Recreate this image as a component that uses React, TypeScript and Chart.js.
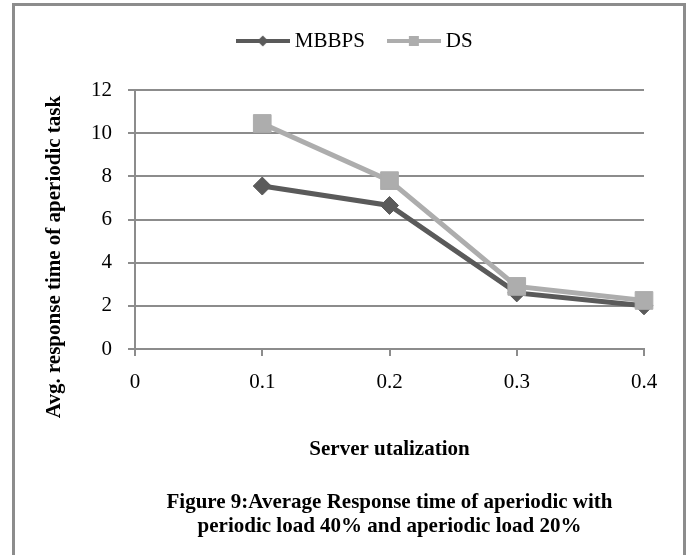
import React, { useEffect, useRef } from 'react';
import { Chart, registerables } from 'chart.js';

Chart.register(...registerables);

// ---- data ----
const utilization = [0.1, 0.2, 0.3, 0.4];
const mbbpsValues = [7.55, 6.65, 2.6, 2.0];
const dsValues = [10.45, 7.8, 2.9, 2.25];
const seriesNames = ['MBBPS', 'DS'];
const xTickValues = [0, 0.1, 0.2, 0.3, 0.4];
const xTickLabels = ['0', '0.1', '0.2', '0.3', '0.4'];
const yTickValues = [0, 2, 4, 6, 8, 10, 12];
const yTickLabels = ['0', '2', '4', '6', '8', '10', '12'];
const xAxisTitle = 'Server utalization';
const yAxisTitle = 'Avg. response time of aperiodic task';
const captionLines = [
  'Figure 9:Average Response time of aperiodic with',
  'periodic load 40% and aperiodic load 20%',
];

const DARK = '#5a5a5a';
const LIGHT = '#adadad';
const GRID = '#8c8c8c';
const FONT = '"Liberation Serif", "Times New Roman", serif';

function legendIcon(color: string, kind: 'diamond' | 'square') {
  const c = document.createElement('canvas');
  c.width = 54;
  c.height = 22;
  const g = c.getContext('2d')!;
  g.strokeStyle = color;
  g.lineWidth = 4;
  g.beginPath();
  g.moveTo(0, 11);
  g.lineTo(54, 11);
  g.stroke();
  g.fillStyle = color;
  if (kind === 'diamond') {
    g.beginPath();
    g.moveTo(27, 5.5);
    g.lineTo(32.5, 11);
    g.lineTo(27, 16.5);
    g.lineTo(21.5, 11);
    g.closePath();
    g.fill();
  } else {
    g.fillRect(22, 6, 10, 10);
  }
  return c;
}

function labelFor(values: number[], labels: string[], v: number) {
  const i = values.findIndex((t) => Math.abs(t - v) < 1e-9);
  return i >= 0 ? labels[i] : '';
}

export default function App() {
  const ref = useRef<HTMLCanvasElement | null>(null);

  useEffect(() => {
    if (!ref.current) return;
    Chart.defaults.font.family = FONT;
    Chart.defaults.color = '#000';
    const icons = [legendIcon(DARK, 'diamond'), legendIcon(LIGHT, 'square')];

    const legendSpacer = {
      id: 'legendSpacer',
      beforeUpdate(chart: any) {
        const lg = chart.legend;
        if (lg && !lg.__spaced) {
          const orig = lg.fit;
          lg.fit = function () {
            orig.call(this);
            this.height += 28.5;
          };
          lg.__spaced = true;
        }
      },
    };

    const yTitlePlugin = {
      id: 'yTitle',
      afterDraw(chart: any) {
        const ctx = chart.ctx;
        ctx.save();
        ctx.font = `bold 21px ${FONT}`;
        ctx.fillStyle = '#000';
        ctx.translate(55, 257);
        ctx.rotate(-Math.PI / 2);
        ctx.textAlign = 'center';
        ctx.textBaseline = 'middle';
        ctx.fillText(yAxisTitle, 0, 0);
        ctx.restore();
      },
    };

    const chart = new Chart(ref.current, {
      type: 'line',
      data: {
        datasets: [
          {
            label: seriesNames[0],
            data: utilization.map((x, i) => ({ x, y: mbbpsValues[i] })),
            borderColor: DARK,
            backgroundColor: DARK,
            borderWidth: 5,
            pointStyle: 'rectRot',
            pointRadius: 9,
            pointBorderWidth: 1,
            pointBackgroundColor: DARK,
            pointBorderColor: DARK,
            order: 1,
            clip: false,
          },
          {
            label: seriesNames[1],
            data: utilization.map((x, i) => ({ x, y: dsValues[i] })),
            borderColor: LIGHT,
            backgroundColor: LIGHT,
            borderWidth: 5,
            pointStyle: 'rect',
            pointRadius: 12.5,
            pointBorderWidth: 1,
            pointBackgroundColor: LIGHT,
            pointBorderColor: LIGHT,
            order: 0,
            clip: false,
          },
        ],
      },
      options: {
        responsive: false,
        animation: false,
        events: [],
        layout: { padding: { left: 70, right: 45, top: 3, bottom: 16 } },
        scales: {
          x: {
            type: 'linear',
            min: 0,
            max: 0.4,
            afterBuildTicks: (s: any) => {
              s.ticks = xTickValues.map((v) => ({ value: v }));
            },
            ticks: {
              callback: (v: any) => labelFor(xTickValues, xTickLabels, Number(v)),
              padding: 14,
              font: { size: 21 },
              color: '#000',
              maxRotation: 0,
              autoSkip: false,
            },
            grid: {
              drawOnChartArea: false,
              drawTicks: true,
              tickLength: 7,
              color: GRID,
              lineWidth: 2,
            },
            border: { display: true, color: GRID, width: 2 },
            title: {
              display: true,
              text: xAxisTitle,
              font: { size: 21, weight: 'bold', lineHeight: 24 / 21 },
              color: '#000',
              padding: { top: 28.8, bottom: 29 },
            },
          },
          y: {
            min: 0,
            max: 12,
            afterBuildTicks: (s: any) => {
              s.ticks = yTickValues.map((v) => ({ value: v }));
            },
            afterFit: (s: any) => {
              s.width = 65;
            },
            ticks: {
              callback: (v: any) => labelFor(yTickValues, yTickLabels, Number(v)),
              padding: 16,
              font: { size: 21 },
              color: '#000',
            },
            grid: { color: GRID, lineWidth: 2, tickLength: 7, drawTicks: true },
            border: { display: true, color: GRID, width: 2 },
          },
        },
        plugins: {
          legend: {
            position: 'top',
            align: 'center',
            labels: {
              usePointStyle: true,
              pointStyleWidth: 43,
              padding: 27.5,
              font: { size: 21 },
              color: '#000',
              sort: (a: any, b: any) => a.datasetIndex - b.datasetIndex,
              generateLabels: (c: any) =>
                (Chart.defaults.plugins.legend.labels as any)
                  .generateLabels(c)
                  .map((it: any) => ({ ...it, pointStyle: icons[it.datasetIndex] })),
            },
          },
          title: {
            display: true,
            position: 'bottom',
            fullSize: false,
            text: captionLines,
            font: { size: 21, weight: 'bold', lineHeight: 24 / 21 },
            color: '#000',
            padding: { top: 0, bottom: 0 },
          },
          tooltip: { enabled: false },
        },
      } as any,
      plugins: [legendSpacer, yTitlePlugin],
    });

    return () => chart.destroy();
  }, []);

  return (
    <div
      style={{
        position: 'fixed',
        left: 0,
        top: 0,
        width: 689,
        height: 555,
        overflow: 'hidden',
        background: '#fff',
      }}
    >
      <div
        style={{
          position: 'absolute',
          left: 12,
          top: 3,
          width: 674,
          height: 600,
          boxSizing: 'border-box',
          border: `3px solid ${GRID}`,
          borderBottom: 'none',
        }}
      />
      <canvas
        ref={ref}
        width={689}
        height={555}
        style={{ position: 'absolute', left: 0, top: 0, width: 689, height: 555 }}
      />
    </div>
  );
}
